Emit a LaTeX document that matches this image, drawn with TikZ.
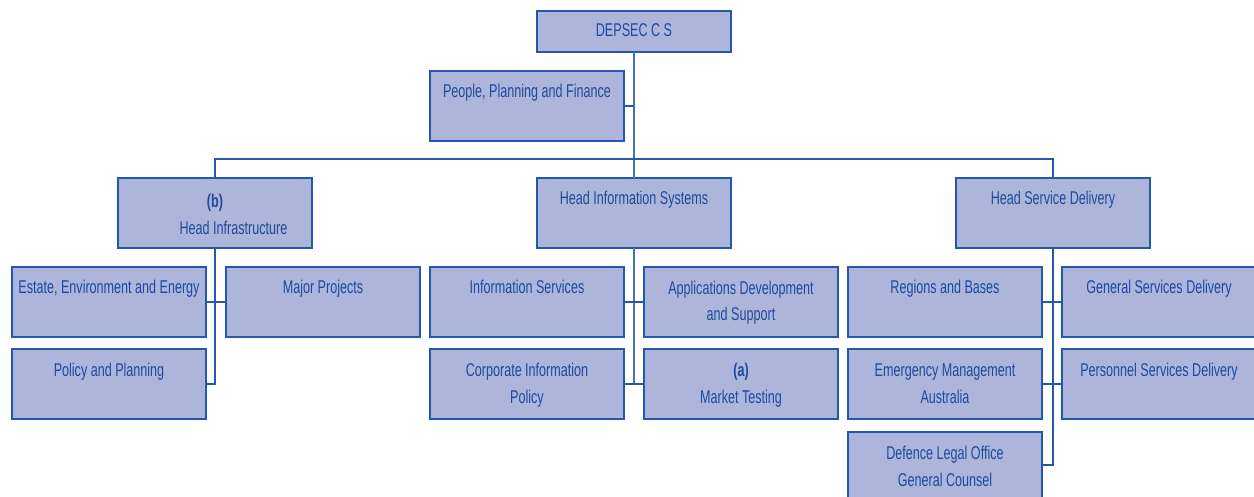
\documentclass[tikz,border=0pt]{standalone}
\usepackage{fontspec}
\setmainfont{Liberation Sans}[FakeStretch=0.68]
\definecolor{boxfill}{RGB}{174,181,219}
\definecolor{boxline}{RGB}{36,88,170}
\definecolor{boxtext}{RGB}{30,74,156}
\newcommand\firstline{\rule{0pt}{14pt}}
\begin{document}
\begin{tikzpicture}[x=1pt,y=-1pt,
  box/.style={draw=boxline, fill=boxfill, line width=2pt, anchor=north west,
    inner sep=0pt, outer sep=0pt, minimum width=194pt, minimum height=70pt},
  txt/.style={anchor=north, inner sep=0pt, outer sep=0pt, align=center,
    text=boxtext, font=\fontsize{18.5}{27}\selectfont},
  link/.style={draw=boxline, line width=1.8pt},
  thin/.style={draw=boxline!85!white, line width=1.2pt}]
\useasboundingbox (0,0) rectangle (1254,497);
\fill[white] (0,0) rectangle (1254,497);

% top level
\node[box, minimum height=41pt] (dep) at (537,11) {};
\node[box] (ppf) at (430,71) {};

% heads of division
\node[box] (hi)  at (118,178) {};
\node[box] (his) at (537,178) {};
\node[box] (hsd) at (956,178) {};

% infrastructure branches
\node[box] (eee) at (12,267) {};
\node[box] (mp)  at (226,267) {};
\node[box] (pp)  at (12,349) {};

% information systems branches
\node[box] (is)  at (430,267) {};
\node[box] (ads) at (644,267) {};
\node[box] (cip) at (430,349) {};
\node[box] (mt)  at (644,349) {};

% service delivery branches
\node[box] (rb)  at (848,267) {};
\node[box] (gsd) at (1062,267) {};
\node[box] (ema) at (848,349) {};
\node[box] (psd) at (1062,349) {};
\node[box, minimum height=66pt] (dlo) at (848,432) {};

% connectors
\draw[thin] (dep.south) -- (his.north);
\draw[link] (ppf.east) -- (ppf.east -| dep.south);
\draw[link] (hi.north) -- ++(0,-19) -| (hsd.north);

\draw[link] (hi.south) -- (hi.south |- pp.east) -- (pp.east);
\draw[link] (eee.east) -- (mp.west);

\draw[thin] (his.south) -- (his.south |- cip.east);
\draw[link] (is.east) -- (ads.west);
\draw[link] (cip.east) -- (mt.west);

\draw[link] (hsd.south) -- (hsd.south |- dlo.east) -- (dlo.east);
\draw[link] (rb.east) -- (gsd.west);
\draw[link] (ema.east) -- (psd.west);

% labels
\node[txt] at ([yshift=-12pt]dep.north) {\firstline DEPSEC C S};
\node[txt] at ([yshift=-13pt]ppf.north) {\firstline People, Planning and Finance};
\node[txt] at ([yshift=-16pt]hi.north) {\firstline\textbf{(b)}\\\hspace*{37pt}Head Infrastructure};
\node[txt] at ([yshift=-13pt]his.north) {\firstline Head Information Systems};
\node[txt] at ([yshift=-13pt]hsd.north) {\firstline Head Service Delivery};
\node[txt] at ([yshift=-13pt]eee.north) {\firstline Estate, Environment and Energy};
\node[txt] at ([yshift=-13pt]mp.north) {\firstline Major Projects};
\node[txt] at ([yshift=-13pt]pp.north) {\firstline Policy and Planning};
\node[txt] at ([yshift=-13pt]is.north) {\firstline Information Services};
\node[txt] at ([yshift=-13pt]ads.north) {\firstline Applications Development\\and Support};
\node[txt] at ([yshift=-13pt]cip.north) {\firstline Corporate Information\\Policy};
\node[txt] at ([yshift=-13pt]mt.north) {\firstline\textbf{(a)}\\Market Testing};
\node[txt] at ([yshift=-13pt]rb.north) {\firstline Regions and Bases};
\node[txt] at ([yshift=-13pt]gsd.north) {\firstline General Services Delivery};
\node[txt] at ([yshift=-13pt]ema.north) {\firstline Emergency Management\\Australia};
\node[txt] at ([yshift=-13pt]psd.north) {\firstline Personnel Services Delivery};
\node[txt] at ([yshift=-13pt]dlo.north) {\firstline Defence Legal Office\\General Counsel};
\end{tikzpicture}
\end{document}
